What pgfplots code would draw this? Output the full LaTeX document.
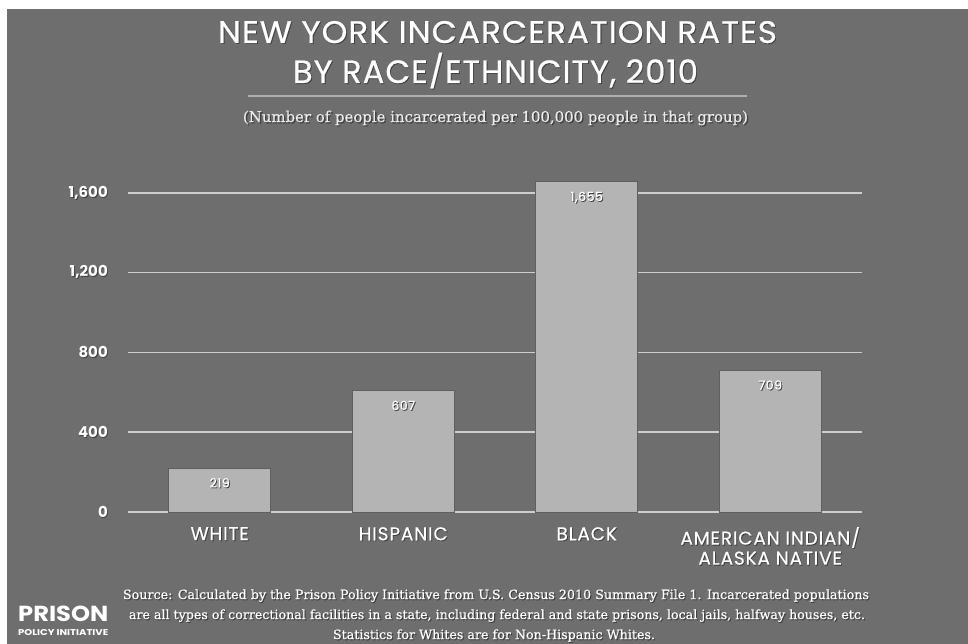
\documentclass[border=0pt]{standalone}
\usepackage{pgfplots}
\pgfplotsset{compat=1.18}
\usepackage{fontspec}
\setmainfont{Liberation Serif}
\newfontfamily\fut{Poppins}
\newfontfamily\futT{Poppins}[LetterSpace=3, FakeBold=0.6]
\newfontfamily\futC{Poppins}[LetterSpace=4.5, FakeBold=0.5]
\newfontfamily\ser{DejaVu Serif}[FakeBold=0.4]
\definecolor{bg}{RGB}{110,110,110}
\definecolor{barc}{RGB}{180,180,180}
\definecolor{gridc}{RGB}{205,205,205}
\definecolor{sepc}{RGB}{175,175,175}
\newcommand\sh[1]{\leavevmode\rlap{\kern0.9pt\raisebox{-0.9pt}{\textcolor{black!75}{#1}}}#1}
\begin{document}
\begin{tikzpicture}
\useasboundingbox (0,0) rectangle (968pt,-644pt);
\fill[white] (0,0) rectangle (968pt,-644pt);
\fill[bg] (7pt,-9pt) rectangle (968pt,-644pt);
% title
\node[anchor=base, inner sep=0pt, text=white] at (497.5pt,-43pt) {\resizebox{559pt}{22pt}{\futT\fontsize{31}{31}\selectfont\sh{NEW YORK INCARCERATION RATES}}};
\node[anchor=base, inner sep=0pt, text=white] at (495.5pt,-83pt) {\resizebox{405pt}{!}{\futT\fontsize{31}{31}\selectfont\sh{BY RACE/ETHNICITY, 2010}}};
\draw[sepc, line width=1.2pt] (248pt,-96pt) -- (747pt,-96pt);
\node[anchor=base, inner sep=0pt, text=white!92!black] at (495.5pt,-122pt) {\resizebox{505pt}{!}{\ser\sh{(Number of people incarcerated per 100,000 people in that group)}}};
% footer
\node[anchor=base, inner sep=0pt, text=white] at (496pt,-599pt) {\resizebox{746pt}{!}{\ser\sh{Source: Calculated by the Prison Policy Initiative from U.S. Census 2010 Summary File 1. Incarcerated populations}}};
\node[anchor=base, inner sep=0pt, text=white] at (497pt,-619pt) {\resizebox{736pt}{!}{\ser\sh{are all types of correctional facilities in a state, including federal and state prisons, local jails, halfway houses, etc.}}};
\node[anchor=base, inner sep=0pt, text=white] at (494pt,-639pt) {\resizebox{322pt}{!}{\ser\sh{Statistics for Whites are for Non-Hispanic Whites.}}};
% logo
\node[anchor=base west, inner sep=0pt, text=white] at (18pt,-621pt) {\resizebox{90pt}{15.5pt}{\fut\bfseries PRISON}};
\node[anchor=base west, inner sep=0pt, text=white] at (18pt,-635pt) {\resizebox{90pt}{6pt}{\fut\bfseries POLICY INITIATIVE}};
\begin{axis}[
  at={(128pt,-512pt)}, anchor=south west,
  scale only axis, width=734pt, height=339pt,
  xmin=-0.5, xmax=3.5, ymin=0, ymax=1700,
  clip=false,
  axis line style={draw=none},
  major tick length=0pt,
  /pgf/number format/1000 sep={,},
  /pgf/number format/assume math mode=true,
  ytick={0,400,800,1200,1600},
  ymajorgrids,
  grid style={gridc, line width=1.5pt},
  yticklabel={\sh{\pgfmathprintnumber{\tick}}},
  yticklabel style={font=\fut\bfseries\fontsize{15}{15}\selectfont, text=white, anchor=east, inner sep=0pt, xshift=-20pt},
  xtick={0,1,2,3},
  xticklabels={{\sh{WHITE}},{\sh{HISPANIC}},{\sh{BLACK}},{\sh{AMERICAN INDIAN/}\\\sh{ALASKA NATIVE}}},
  xticklabel style={font=\futC\fontsize{18.5}{20}\selectfont, text=white, anchor=north, inner sep=0pt, yshift=-15pt, align=center},
  ybar, bar width=102pt,
  nodes near coords={\sh{\pgfmathprintnumber{\pgfplotspointmeta}}},
  nodes near coords style={anchor=base, yshift=-19pt, inner sep=0pt, font=\futC\fontsize{12.5}{12.5}\selectfont, text=white},
]
\addplot[fill=barc, draw={rgb,255:red,95;green,95;blue,95}, line width=1pt] coordinates {(0,219) (1,607) (2,1655) (3,709)};
\end{axis}
\end{tikzpicture}
\end{document}
